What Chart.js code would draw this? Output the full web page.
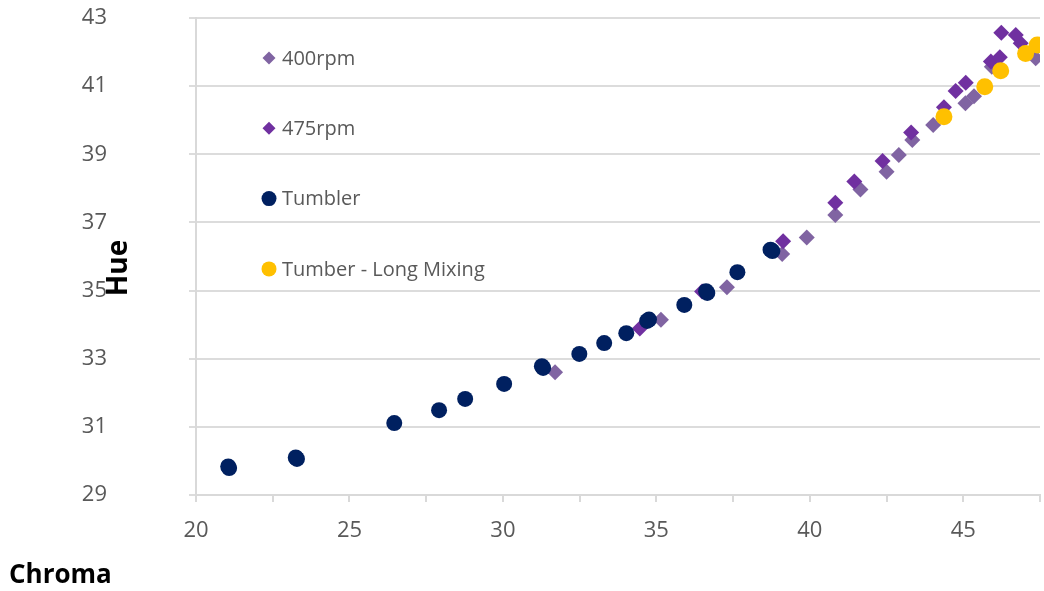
<!DOCTYPE html>
<html>
<head>
<meta charset="utf-8">
<script src="https://cdn.jsdelivr.net/npm/chart.js@4.4.1/dist/chart.umd.min.js"></script>
<style>
  body { margin: 0; background: #fff; }
  #wrap { width: 1044px; height: 591px; }
</style>
</head>
<body>
<div id="wrap"><canvas id="myChart"></canvas></div>
<script>
// Chroma (x) / Hue (y)
const chroma400 = [31.7, 35.15, 37.3, 39.1, 39.9, 40.83, 41.65, 42.5, 42.9, 43.34, 44.02, 45.07, 45.35, 45.93, 47.36]
const hue400 = [32.6, 34.14, 35.1, 36.07, 36.56, 37.22, 37.97, 38.49, 38.98, 39.42, 39.86, 40.5, 40.7, 41.57, 41.82]

const chroma475 = [34.46, 36.49, 39.13, 40.83, 41.45, 42.37, 43.3, 44.37, 44.75, 45.08, 45.9, 46.19, 46.24, 46.71, 46.87]
const hue475 = [33.89, 34.97, 36.45, 37.58, 38.2, 38.8, 39.64, 40.38, 40.86, 41.1, 41.72, 41.85, 42.57, 42.5, 42.26]

const chromaTumbler = [21.08, 21.05, 23.29, 23.25, 26.46, 27.92, 28.77, 30.04, 31.31, 31.27, 32.49, 33.3, 34.02, 34.7, 34.76, 35.91, 36.66, 36.62, 37.64, 38.78, 38.72]
const hueTumbler = [29.79, 29.84, 30.06, 30.1, 31.11, 31.49, 31.82, 32.26, 32.73, 32.78, 33.14, 33.46, 33.75, 34.11, 34.15, 34.58, 34.93, 34.98, 35.54, 36.16, 36.2]

const chromaLong = [44.37, 45.7, 46.22, 47.03, 47.41]
const hueLong = [40.1, 40.98, 41.45, 41.96, 42.21]

const xTicksMin = 20, xTicksMax = 47.5
const yTicksMin = 29, yTicksMax = 43

const toPoints = (xs, ys) => xs.map((x, i) => ({ x: x, y: ys[i] }))

const overlay = {
  id: 'overlay',
  afterDraw(chart) {
    const ctx = chart.ctx
    const a = chart.chartArea
    ctx.save()
    // legend inside the plot
    chart.data.datasets.forEach((ds, i) => {
      const x = a.left + 73
      const y = a.top + 40 + i * 70.3
      ctx.fillStyle = ds.backgroundColor
      Chart.helpers.drawPoint(ctx, {
        pointStyle: ds.pointStyle,
        radius: ds.pointStyle === 'circle' ? 7.5 : 6.5,
        rotation: 0,
        borderWidth: 0
      }, x, y)
      ctx.fillStyle = '#595959'
      ctx.font = '20px "Open Sans"'
      ctx.textAlign = 'left'
      ctx.textBaseline = 'middle'
      ctx.fillText(ds.label, x + 13, y + 1)
    })
    // axis titles
    ctx.fillStyle = '#000'
    ctx.textBaseline = 'middle'
    ctx.save()
    ctx.font = 'bold 28px "Open Sans"'
    ctx.translate(119, 268)
    ctx.rotate(-Math.PI / 2)
    ctx.textAlign = 'center'
    ctx.fillText('Hue', 0, 0)
    ctx.restore()
    ctx.font = 'bold 26px "Open Sans"'
    ctx.textAlign = 'left'
    ctx.fillText('Chroma', 9, 576)
    ctx.restore()
  }
}

const ctx = document.getElementById('myChart').getContext('2d')
new Chart(ctx, {
  type: 'scatter',
  data: {
    datasets: [{
      label: '400rpm',
      data: toPoints(chroma400, hue400),
      backgroundColor: '#8064a2',
      pointStyle: 'rectRot',
      pointRadius: 8,
      order: 4
    }, {
      label: '475rpm',
      data: toPoints(chroma475, hue475),
      backgroundColor: '#7030a0',
      pointStyle: 'rectRot',
      pointRadius: 8,
      order: 3
    }, {
      label: 'Tumbler',
      data: toPoints(chromaTumbler, hueTumbler),
      backgroundColor: '#002060',
      pointStyle: 'circle',
      pointRadius: 8,
      order: 2
    }, {
      label: 'Tumber - Long Mixing',
      data: toPoints(chromaLong, hueLong),
      backgroundColor: '#ffc000',
      pointStyle: 'circle',
      pointRadius: 8.5,
      order: 1
    }]
  },
  options: {
    responsive: true,
    maintainAspectRatio: false,
    animation: false,
    layout: { padding: { top: 18, right: 4, left: 0, bottom: 0 }, autoPadding: false },
    elements: { point: { borderWidth: 0, hoverRadius: 8 } },
    plugins: {
      legend: { display: false },
      tooltip: { enabled: false }
    },
    scales: {
      x: {
        type: 'linear',
        min: xTicksMin,
        max: xTicksMax,
        afterFit: s => { s.height = 96; s.paddingLeft = 0; s.paddingRight = 0 },
        border: { color: '#d9d9d9', width: 2 },
        grid: { drawOnChartArea: false, drawTicks: true, tickLength: 7, color: '#d9d9d9', lineWidth: 2 },
        ticks: {
          stepSize: 2.5,
          autoSkip: false,
          maxRotation: 0,
          padding: 16,
          color: '#595959',
          font: { family: 'Open Sans', size: 22 },
          callback: v => (v % 5 === 0 ? v : '')
        }
      },
      y: {
        min: yTicksMin,
        max: yTicksMax,
        afterFit: s => { s.width = 196; s.paddingTop = 0; s.paddingBottom = 0 },
        border: { color: '#d9d9d9', width: 2 },
        grid: { color: '#dcdcdc', lineWidth: 2, tickLength: 7 },
        ticks: {
          stepSize: 2,
          padding: 82,
          color: '#595959',
          font: { family: 'Open Sans', size: 22 }
        }
      }
    }
  },
  plugins: [overlay]
})
</script>
</body>
</html>
